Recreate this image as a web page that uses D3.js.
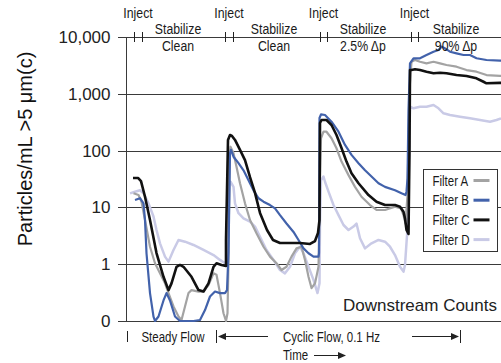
<!DOCTYPE html>
<html>
<head>
<meta charset="utf-8">
<script src="https://cdn.jsdelivr.net/npm/d3@7"></script>
<style>
  body { margin: 0; background: #fff; }
  svg { display: block; font-family: "Liberation Sans", Arial, sans-serif; }
</style>
</head>
<body>
<div id="chart"></div>
<script>
// time in arbitrary units, counts in particles/mL
const filterA = [
  [1.5, 17.7], [2.5, 16.5], [3.1, 12.6], [3.8, 6.0], [4.8, 2.03], [5.8, 1.04], [6.8, 0.69],
  [7.8, 0.46], [8.5, 0.31], [9.5, 0.18], [10.5, 0.12], [11.1, 0.104], [11.8, 0.18], [12.5, 0.31],
  [13.1, 0.35], [14.5, 0.33], [15.5, 0.33], [16.5, 0.43], [17.5, 0.69], [18.1, 0.65], [18.8, 0.31],
  [19.5, 0.137], [20.0, 0.1], [20.3, 0.137], [20.5, 1.19], [20.7, 90], [20.9, 117], [21.5, 90],
  [22.1, 52], [22.8, 26.6], [23.8, 11.8], [24.8, 6.0], [26.1, 3.5], [27.5, 2.03], [28.8, 1.36],
  [30.1, 1.04], [31.1, 0.79], [32.1, 0.9], [33.1, 1.36], [34.1, 1.9], [35.1, 2.03], [35.8, 1.19],
  [36.5, 0.6], [37.1, 0.38], [37.8, 0.46], [38.5, 0.9], [38.7, 6.0], [38.8, 32.5], [39.0, 165],
  [39.5, 215], [40.1, 215], [41.1, 165], [42.1, 110], [43.1, 64], [44.5, 37], [45.8, 23],
  [47.1, 15.4], [48.8, 11.0], [50.1, 9.0], [51.8, 9.0], [53.8, 10.3], [55.0, 9.6], [55.5, 7.3],
  [55.9, 5.2], [56.3, 16.5], [56.7, 1170], [57.1, 3670], [57.8, 3940], [58.8, 3670], [60.1, 3440],
  [61.5, 3670], [62.8, 3440], [64.1, 3210], [66.1, 3000], [68.1, 2620], [70.1, 2450], [72.1, 2140],
  [74.8, 2060], [75, 2060]
];
const filterB = [
  [1.8, 13.5], [2.8, 14.5], [3.5, 11.8], [3.8, 6.0], [4.1, 1.56], [4.8, 0.31], [5.5, 0.119],
  [5.8, 0.1], [6.5, 0.12], [7.5, 0.23], [8.1, 0.31], [8.8, 0.23], [9.8, 0.12], [10.8, 0.1],
  [13.5, 0.1], [14.8, 0.104], [15.8, 0.156], [16.8, 0.27], [17.8, 0.33], [18.8, 0.31], [19.8, 0.31],
  [20.2, 0.35], [20.5, 1.57], [20.7, 23], [20.8, 90], [21.0, 103], [21.5, 78], [22.5, 60],
  [23.5, 45], [24.5, 30], [25.5, 20], [26.5, 14.5], [27.5, 12.6], [28.8, 11.0], [29.8, 9.6],
  [30.8, 7.3], [32.1, 5.2], [33.5, 3.7], [34.5, 2.67], [35.5, 1.9], [36.5, 1.56], [37.5, 1.36],
  [38.5, 1.36], [38.6, 1.57], [38.7, 375], [39.0, 435], [39.8, 424], [41.1, 323], [42.5, 215],
  [43.8, 126], [45.1, 84], [46.5, 60], [47.8, 45], [49.1, 35], [50.5, 26.6], [51.8, 23],
  [53.8, 20], [55.1, 17.7], [55.9, 16.5], [56.1, 18.9], [56.3, 32.5], [56.5, 519], [56.8, 3440],
  [57.5, 4220], [58.8, 4220], [60.1, 4820], [61.5, 5510], [62.5, 5900], [63.1, 6750], [63.8, 6320],
  [64.8, 5510], [66.1, 5160], [67.5, 4820], [68.8, 4820], [70.1, 4220], [72.1, 3940], [74.8, 3830],
  [75, 3830]
];
const filterC = [
  [1.4, 33], [2.4, 33], [3.0, 29], [3.8, 15.4], [4.8, 6.0], [6.1, 1.57], [7.5, 0.6], [8.5, 0.35],
  [9.1, 0.46], [10.1, 0.9], [10.8, 0.97], [11.5, 0.9], [13.1, 0.6], [14.5, 0.35], [15.5, 0.33],
  [16.5, 0.46], [17.5, 0.9], [18.1, 1.04], [19.1, 0.97], [20.0, 0.93], [20.0, 2.67], [20.4, 154],
  [20.8, 188], [21.2, 181], [21.8, 154], [22.8, 103], [23.8, 68], [24.8, 34], [25.8, 18],
  [26.8, 8.0], [28.2, 4.0], [29.4, 2.67], [30.8, 2.36], [34.8, 2.36], [36.8, 2.27], [37.8, 2.56],
  [38.4, 3.54], [38.7, 6.0], [38.8, 306], [39.1, 346], [40.1, 346], [41.1, 282], [42.1, 188],
  [43.1, 111], [44.1, 64], [45.1, 40], [46.5, 26.6], [48.5, 16.5], [50.1, 12.6], [51.8, 11.0],
  [53.8, 11.0], [54.8, 10.3], [55.5, 8.4], [55.8, 6.4], [56.1, 4.0], [56.5, 3.4], [56.7, 103],
  [56.8, 2620], [57.1, 2620], [57.8, 2700], [58.8, 2620], [60.1, 2450], [61.5, 2300], [62.8, 2350],
  [64.1, 2300], [66.1, 2140], [68.1, 2060], [70.1, 1870], [71.5, 1630], [72.1, 1530], [74.8, 1560],
  [75, 1560]
];
const filterD = [
  [0.8, 17.7], [1.8, 18.9], [2.8, 20], [3.5, 17.7], [4.5, 11.8], [5.5, 6.9], [6.1, 4.0], [6.8, 2.33],
  [7.8, 1.36], [8.5, 1.11], [9.5, 1.78], [10.5, 2.67], [11.8, 2.49], [13.5, 2.18], [15.5, 1.78],
  [17.5, 1.45], [18.8, 1.19], [19.8, 1.04], [20.3, 1.19], [20.5, 6.0], [20.7, 26.6], [20.9, 28.3],
  [21.5, 23], [21.8, 11.8], [22.5, 7.9], [23.5, 6.4], [24.8, 5.6], [25.8, 4.6], [26.8, 3.05],
  [28.1, 1.78], [29.5, 1.19], [30.8, 0.79], [31.8, 0.69], [32.8, 0.9], [33.8, 1.56], [34.8, 2.03],
  [35.5, 1.56], [36.5, 0.9], [37.5, 0.53], [38.3, 0.31], [38.7, 0.46], [38.8, 6.0], [39.0, 30],
  [39.5, 35], [39.8, 28.3], [40.5, 18.9], [41.5, 11.0], [42.5, 7.3], [43.5, 4.9], [44.5, 4.0],
  [45.5, 4.6], [46.1, 5.2], [46.8, 2.86], [47.8, 1.9], [49.1, 2.33], [50.5, 2.67], [51.8, 2.49],
  [52.8, 2.03], [53.8, 1.45], [54.8, 0.9], [55.5, 0.74], [55.8, 0.97], [56.3, 4.3], [56.6, 64],
  [56.8, 593], [57.5, 556], [58.8, 593], [60.1, 593], [61.5, 635], [62.5, 556], [63.5, 454],
  [64.8, 424], [66.8, 395], [68.8, 370], [70.8, 346], [72.8, 323], [74.1, 346], [75, 370]
];

const seriesNames = ["Filter A", "Filter B", "Filter C", "Filter D"];
const seriesColors = ["#a3a3a3", "#4262ab", "#111111", "#c9cae6"];
const yTicks = [0.1, 1, 10, 100, 1000, 10000];
const yTickLabels = ["0", "1", "10", "100", "1,000", "10,000"];
const injectTicks = [1.6, 3.2, 19.8, 21.3, 38.8, 40.2, 57.0, 58.4];
const injectCenters = [2.4, 20.6, 39.5, 57.7];
const stabilizeCenters = [10.4, 29.6, 47.4, 66.0];
const stabilizeSub = ["Clean", "Clean", "2.5% \u0394p", "90% \u0394p"];

const W = 501, H = 363;
const svg = d3.select("#chart").append("svg").attr("width", W).attr("height", H);

const x = d3.scaleLinear().domain([0, 75]).range([126, 501]);
const y = d3.scaleLog().domain([0.1, 10000]).range([321, 37]);

// condensed-looking text (no narrow face installed, so squeeze horizontally)
function narrowText(sel, tx, ty, str, size, anchor) {
  return sel.append("text")
    .attr("transform", `translate(${tx},${ty}) scale(0.82,1)`)
    .attr("font-size", size)
    .attr("text-anchor", anchor || "start")
    .attr("fill", "#1a1a1a")
    .text(str);
}

// gridlines (the top and bottom ones double as frame lines)
svg.append("g")
  .selectAll("line")
  .data(yTicks)
  .join("line")
  .attr("x1", 118).attr("x2", W)
  .attr("y1", d => Math.round(y(d)) + 0.5).attr("y2", d => Math.round(y(d)) + 0.5)
  .attr("stroke", "#3a3a3a").attr("stroke-width", 1);

// left axis
const yAxis = d3.axisLeft(y).tickValues(yTicks).tickFormat((d, i) => yTickLabels[i]).tickSize(0).tickPadding(16);
const ag = svg.append("g").attr("transform", "translate(126.5,0)").call(yAxis);
ag.select(".domain").remove();
ag.selectAll("text").attr("font-size", 17).attr("fill", "#222").attr("font-family", "Liberation Sans, Arial, sans-serif");
svg.append("line").attr("x1", 126.5).attr("x2", 126.5).attr("y1", 37).attr("y2", 322)
  .attr("stroke", "#3a3a3a");

svg.append("text")
  .attr("transform", "translate(32,149) rotate(-90)")
  .attr("text-anchor", "middle")
  .attr("font-size", 20).attr("fill", "#111")
  .text("Particles/mL >5 \u03bcm(c)");

// curves
const line = d3.line().x(d => x(d[0])).y(d => y(Math.max(d[1], 0.1)));
const plotData = [filterD, filterA, filterB, filterC];
const plotIdx = [3, 0, 1, 2];
const plotWidth = [2.5, 2.2, 2.2, 2.6];
svg.append("defs").append("clipPath").attr("id", "clip")
  .append("rect").attr("x", 126).attr("y", 30).attr("width", W - 126).attr("height", 292);
svg.append("g").attr("clip-path", "url(#clip)")
  .selectAll("path")
  .data(plotData)
  .join("path")
  .attr("d", line)
  .attr("fill", "none")
  .attr("stroke", (d, i) => seriesColors[plotIdx[i]])
  .attr("stroke-width", (d, i) => plotWidth[i])
  .attr("stroke-linejoin", "round");

// top annotations
svg.append("g").selectAll("line")
  .data(injectTicks)
  .join("line")
  .attr("x1", d => Math.round(x(d)) + 0.5).attr("x2", d => Math.round(x(d)) + 0.5)
  .attr("y1", 32).attr("y2", 42)
  .attr("stroke", "#222");
const topG = svg.append("g");
injectCenters.forEach(c => narrowText(topG, x(c), 18, "Inject", 15, "middle"));
stabilizeCenters.forEach((c, i) => {
  narrowText(topG, x(c), 34, "Stabilize", 15, "middle");
  narrowText(topG, x(c), 51, stabilizeSub[i], 15, "middle");
});

// legend
const lg = svg.append("g").attr("transform", "translate(423.5,169.5)");
lg.append("rect").attr("width", 74).attr("height", 82).attr("fill", "#fff").attr("stroke", "#333");
seriesNames.forEach((name, i) => {
  const cy = 11 + i * 19.7;
  narrowText(lg, 9, cy + 5, name, 14);
  lg.append("line").attr("x1", 50).attr("x2", 66).attr("y1", cy).attr("y2", cy)
    .attr("stroke", seriesColors[i]).attr("stroke-width", 3);
});

svg.append("text").attr("x", 497).attr("y", 311).attr("text-anchor", "end")
  .attr("font-size", 17).attr("fill", "#222").text("Downstream Counts");

// bottom annotations
const bt = svg.append("g");
const bl = svg.append("g").attr("stroke", "#222").attr("stroke-width", 1);
bl.append("line").attr("x1", 127.5).attr("x2", 127.5).attr("y1", 331).attr("y2", 342);
narrowText(bt, x(9.4), 342, "Steady Flow", 14, "middle");
bl.append("line").attr("x1", 216.5).attr("x2", 216.5).attr("y1", 330).attr("y2", 343);
bl.append("line").attr("x1", 220).attr("x2", 268).attr("y1", 336.5).attr("y2", 336.5);
bl.append("path").attr("d", "M218,336.5 L226,333 L226,340 Z").attr("fill", "#222").attr("stroke", "none");
narrowText(bt, 283, 342, "Cyclic Flow, 0.1 Hz", 14);
bl.append("line").attr("x1", 412).attr("x2", 456).attr("y1", 336.5).attr("y2", 336.5);
bl.append("path").attr("d", "M459,336.5 L451,333 L451,340 Z").attr("fill", "#222").attr("stroke", "none");
bl.append("line").attr("x1", 460.5).attr("x2", 460.5).attr("y1", 330).attr("y2", 343);
narrowText(bt, 283, 360, "Time", 14);
bl.append("line").attr("x1", 314).attr("x2", 340).attr("y1", 355.5).attr("y2", 355.5);
bl.append("path").attr("d", "M346,355.5 L338,352 L338,359 Z").attr("fill", "#222").attr("stroke", "none");
</script>
</body>
</html>
